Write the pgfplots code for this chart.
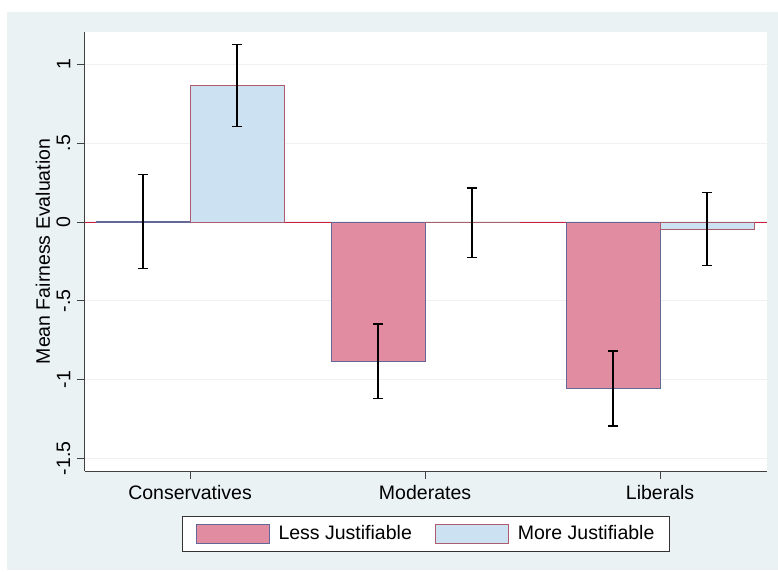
\documentclass[border=0pt]{standalone}
\usepackage{pgfplots}
\pgfplotsset{compat=1.18}
\usepackage{fontspec}
\setmainfont{Liberation Sans}
\definecolor{bgout}{RGB}{234,242,243}
\definecolor{gridc}{RGB}{238,242,243}
\definecolor{lessfill}{RGB}{226,140,161}
\definecolor{lessdraw}{RGB}{100,104,150}
\definecolor{morefill}{RGB}{204,226,243}
\definecolor{moredraw}{RGB}{172,92,108}
\definecolor{zeroline}{RGB}{205,30,60}
\begin{document}
\fontsize{19.5}{23}\selectfont
\begin{tikzpicture}[x=1pt,y=1pt,font=\fontsize{19.5}{23}\selectfont]
\fill[white] (0,0) rectangle (778,571);
\fill[bgout] (7,1) rectangle (778,559);
\begin{axis}[
  at={(85pt,100pt)}, anchor=south west,
  scale only axis, width=682pt, height=439pt,
  xmin=0.553, xmax=3.455, ymin=-1.58, ymax=1.206,
  axis x line*=bottom, axis y line*=left,
  axis line style={-, draw=black!75, line width=1pt},
  xtick={1,2,3}, xticklabels={Conservatives,Moderates,Liberals},
  ytick={-1.5,-1,-0.5,0,0.5,1}, yticklabels={-1.5,-1,-.5,0,.5,1},
  tick align=outside, major tick length=8pt,
  tick style={draw=black!75, line width=1pt},
  yticklabel style={rotate=90, anchor=south},
  ymajorgrids, grid style={draw=gridc, line width=1.3pt},
  axis background/.style={fill=white},
  ylabel={Mean Fairness Evaluation},
  every axis y label/.style={at={(axis description cs:-0.0616,0.5)}, rotate=90, anchor=center},
  bar width=0.4, bar shift=0,
  legend columns=2,
  legend style={at={(axis description cs:0.5,-0.1025)}, anchor=north,
    draw=black!80, line width=1pt, fill=white, inner xsep=13pt, inner ysep=7pt,
    /tikz/every odd column/.append style={column sep=7pt},
    /tikz/every even column/.append style={column sep=21pt}},
  legend image code/.code={\draw[#1, line width=1pt] (0pt,-9.5pt) rectangle (73pt,9.5pt);},
]
\addplot[forget plot, zeroline, line width=1pt, sharp plot] coordinates {(0.553,0) (3.455,0)};
\addplot[ybar, fill=lessfill, draw=lessdraw, line width=0.8pt,
  error bars/.cd, y dir=both, y explicit,
  error bar style={black, line width=1.5pt},
  error mark options={rotate=90, black, mark size=5pt, line width=1.5pt}]
  coordinates {(0.8,0.004) +- (0,0.298) (1.8,-0.883) +- (0,0.236) (2.8,-1.057) +- (0,0.238)};
\addlegendentry{Less Justifiable}
\addplot[ybar, fill=morefill, draw=moredraw, line width=0.8pt,
  error bars/.cd, y dir=both, y explicit,
  error bar style={black, line width=1.5pt},
  error mark options={rotate=90, black, mark size=5pt, line width=1.5pt}]
  coordinates {(1.2,0.866) +- (0,0.261) (2.2,-0.005) +- (0,0.22) (3.2,-0.045) +- (0,0.231)};
\addlegendentry{More Justifiable}
\end{axis}
\end{tikzpicture}
\end{document}
